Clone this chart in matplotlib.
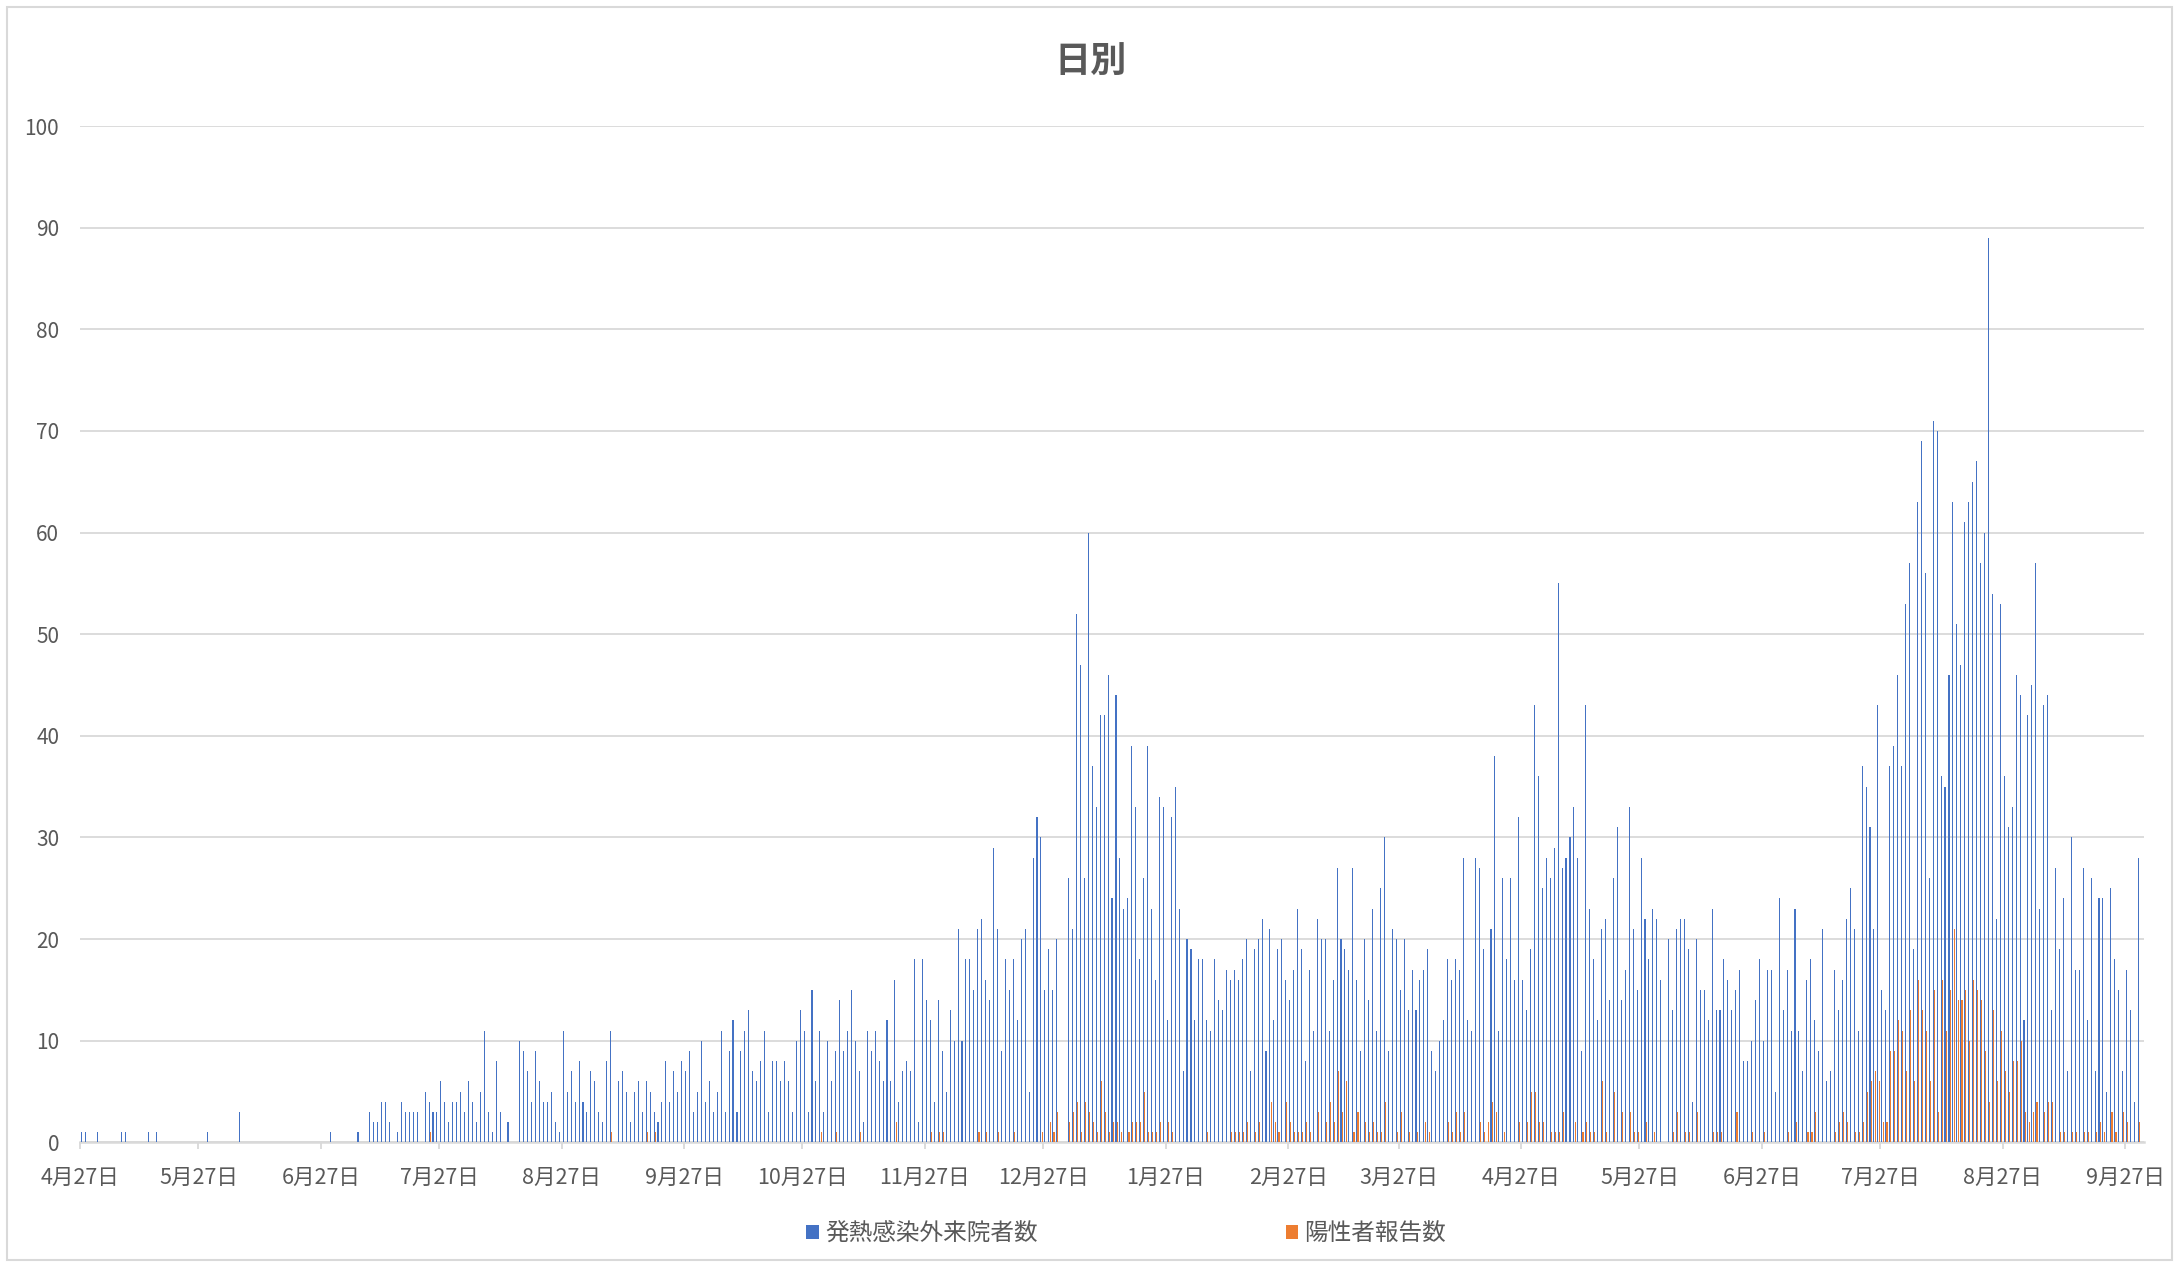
import numpy as np
import pandas as pd
import matplotlib
matplotlib.use('Agg')
import matplotlib.pyplot as plt
from matplotlib.patches import Rectangle

plt.rcParams['font.family'] = ['Noto Sans CJK JP', 'DejaVu Sans']

# daily counts, one value per day starting 2020-04-27
start_date = '2020-04-27'

# 発熱感染外来院者数 (rows of 10 days)
visits = [
    1, 1, 0, 0, 1, 0, 0, 0, 0, 0,
    1, 1, 0, 0, 0, 0, 0, 1, 0, 1,
    0, 0, 0, 0, 0, 0, 0, 0, 0, 0,
    0, 0, 1, 0, 0, 0, 0, 0, 0, 0,
    3, 0, 0, 0, 0, 0, 0, 0, 0, 0,
    0, 0, 0, 0, 0, 0, 0, 0, 0, 0,
    0, 0, 0, 1, 0, 0, 0, 0, 0, 0,
    1, 0, 0, 3, 2, 2, 4, 4, 2, 0,
    1, 4, 3, 3, 3, 3, 0, 5, 4, 3,
    3, 6, 4, 2, 4, 4, 5, 3, 6, 4,
    2, 5, 11, 3, 1, 8, 3, 0, 2, 0,
    0, 10, 9, 7, 4, 9, 6, 4, 4, 5,
    2, 1, 11, 5, 7, 4, 8, 4, 3, 7,
    6, 3, 2, 8, 11, 0, 6, 7, 5, 2,
    5, 6, 3, 6, 5, 3, 2, 4, 8, 4,
    7, 5, 8, 7, 9, 3, 5, 10, 4, 6,
    3, 5, 11, 3, 9, 12, 3, 9, 11, 13,
    7, 6, 8, 11, 3, 8, 8, 6, 8, 6,
    3, 10, 13, 11, 3, 15, 6, 11, 3, 10,
    6, 9, 14, 9, 11, 15, 10, 7, 2, 11,
    9, 11, 8, 6, 12, 6, 16, 4, 7, 8,
    7, 18, 2, 18, 14, 12, 4, 14, 9, 5,
    13, 10, 21, 10, 18, 18, 15, 21, 22, 16,
    14, 29, 21, 9, 18, 15, 18, 12, 20, 21,
    5, 28, 32, 30, 15, 19, 15, 20, 0, 0,
    26, 21, 52, 47, 26, 60, 37, 33, 42, 42,
    46, 24, 44, 28, 23, 24, 39, 33, 18, 26,
    39, 23, 16, 34, 33, 12, 32, 35, 23, 7,
    20, 19, 12, 18, 18, 12, 11, 18, 14, 13,
    17, 16, 17, 16, 18, 20, 7, 19, 20, 22,
    9, 21, 12, 19, 20, 16, 14, 17, 23, 19,
    8, 17, 11, 22, 20, 20, 11, 16, 27, 20,
    19, 17, 27, 16, 9, 20, 14, 23, 11, 25,
    30, 9, 21, 20, 15, 20, 13, 17, 13, 16,
    17, 19, 9, 7, 10, 12, 18, 16, 18, 17,
    28, 12, 11, 28, 27, 19, 0, 21, 38, 11,
    26, 18, 26, 16, 32, 16, 13, 19, 43, 36,
    25, 28, 26, 29, 55, 27, 28, 30, 33, 28,
    9, 43, 23, 18, 12, 21, 22, 14, 26, 31,
    14, 17, 33, 21, 15, 28, 22, 18, 23, 22,
    16, 0, 20, 13, 21, 22, 22, 19, 4, 20,
    15, 15, 12, 23, 13, 13, 18, 16, 13, 15,
    17, 8, 8, 10, 14, 18, 10, 17, 17, 5,
    24, 13, 17, 11, 23, 11, 7, 16, 18, 12,
    9, 21, 6, 7, 17, 13, 16, 22, 25, 21,
    11, 37, 35, 31, 21, 43, 15, 13, 37, 39,
    46, 37, 53, 57, 19, 63, 69, 56, 26, 71,
    70, 36, 35, 46, 63, 51, 47, 61, 63, 65,
    67, 57, 60, 89, 54, 22, 53, 36, 31, 33,
    46, 44, 12, 42, 45, 57, 23, 43, 44, 13,
    27, 19, 24, 7, 30, 17, 17, 27, 12, 26,
    7, 24, 24, 5, 25, 18, 15, 7, 17, 13,
    4, 28,
]

# 陽性者報告数 (rows of 10 days)
positives = [
    0, 0, 0, 0, 0, 0, 0, 0, 0, 0,
    0, 0, 0, 0, 0, 0, 0, 0, 0, 0,
    0, 0, 0, 0, 0, 0, 0, 0, 0, 0,
    0, 0, 0, 0, 0, 0, 0, 0, 0, 0,
    0, 0, 0, 0, 0, 0, 0, 0, 0, 0,
    0, 0, 0, 0, 0, 0, 0, 0, 0, 0,
    0, 0, 0, 0, 0, 0, 0, 0, 0, 0,
    0, 0, 0, 0, 0, 0, 0, 0, 0, 0,
    0, 0, 0, 0, 0, 0, 0, 0, 1, 0,
    0, 0, 0, 0, 0, 0, 0, 0, 0, 0,
    0, 0, 0, 0, 0, 0, 0, 0, 0, 0,
    0, 0, 0, 0, 0, 0, 0, 0, 0, 0,
    0, 0, 0, 0, 0, 0, 0, 0, 0, 0,
    0, 0, 0, 0, 1, 0, 0, 0, 0, 0,
    0, 0, 0, 1, 0, 1, 0, 0, 0, 0,
    0, 0, 0, 0, 0, 0, 0, 0, 0, 0,
    0, 0, 0, 0, 0, 0, 0, 0, 0, 0,
    0, 0, 0, 0, 0, 0, 0, 0, 0, 0,
    0, 0, 0, 0, 0, 0, 0, 1, 0, 0,
    0, 1, 0, 0, 0, 0, 0, 1, 0, 0,
    0, 0, 0, 0, 0, 0, 2, 0, 0, 0,
    0, 0, 0, 0, 0, 1, 0, 1, 1, 0,
    0, 0, 0, 0, 0, 0, 0, 1, 0, 1,
    0, 0, 1, 0, 0, 0, 1, 0, 0, 0,
    0, 0, 0, 1, 0, 2, 1, 3, 0, 0,
    2, 3, 4, 1, 4, 3, 2, 1, 6, 3,
    1, 2, 2, 1, 0, 1, 2, 2, 2, 5,
    1, 1, 1, 2, 0, 2, 1, 0, 0, 0,
    0, 0, 0, 0, 0, 1, 0, 0, 0, 0,
    0, 1, 1, 1, 1, 2, 0, 1, 2, 0,
    0, 4, 2, 1, 0, 4, 2, 1, 1, 1,
    2, 1, 0, 3, 0, 2, 4, 2, 7, 3,
    6, 0, 1, 3, 0, 2, 1, 2, 1, 1,
    4, 0, 0, 1, 3, 0, 1, 0, 1, 0,
    2, 1, 0, 0, 0, 0, 2, 1, 3, 1,
    3, 0, 0, 0, 2, 1, 2, 4, 3, 0,
    1, 0, 0, 0, 2, 0, 2, 5, 5, 2,
    2, 0, 1, 1, 1, 3, 0, 0, 2, 0,
    1, 2, 1, 1, 0, 6, 1, 0, 5, 0,
    3, 0, 3, 1, 1, 0, 2, 0, 1, 0,
    0, 0, 0, 1, 3, 0, 1, 1, 0, 3,
    0, 0, 0, 1, 1, 1, 0, 0, 0, 3,
    0, 0, 0, 1, 0, 0, 1, 0, 0, 0,
    0, 0, 1, 0, 2, 0, 0, 1, 1, 3,
    0, 0, 0, 0, 1, 2, 3, 2, 0, 1,
    1, 2, 5, 6, 7, 6, 2, 2, 9, 9,
    12, 11, 7, 13, 6, 16, 13, 11, 6, 15,
    3, 16, 11, 15, 21, 14, 14, 15, 10, 16,
    15, 14, 9, 4, 13, 6, 11, 7, 5, 8,
    8, 10, 3, 2, 3, 4, 0, 3, 4, 4,
    0, 1, 1, 0, 1, 1, 0, 1, 1, 0,
    1, 2, 1, 0, 3, 1, 0, 3, 2, 0,
    0, 2,
]

dates = pd.date_range(start_date, periods=len(visits), freq='D')
day_idx = np.asarray((dates - dates[0]).days, dtype=float)

# monthly ticks on the 27th
tick_dates = [dates[0] + pd.DateOffset(months=i) for i in range(18)]
tick_pos = [(t - dates[0]).days for t in tick_dates]
tick_labels = [f'{t.month}月{t.day}日' for t in tick_dates]

text_c = '#595959'
grid_c = '#D9D9D9'

fig = plt.figure(figsize=(21.79, 12.67), dpi=100)
ax = fig.add_axes([0.0367, 0.0984, 0.9472, 0.8021])

ax.bar(day_idx + 0.42, visits, width=0.27, color='#4472C4', linewidth=0,
       label='発熱感染外来院者数', zorder=3)
ax.bar(day_idx + 0.72, positives, width=0.27, color='#ED7D31', linewidth=0,
       label='陽性者報告数', zorder=3)

ax.set_ylim(0, 100)
ax.set_yticks(range(0, 101, 10))
ax.set_xlim(0, 522.8)
ax.set_xticks(tick_pos)
ax.set_xticklabels(tick_labels)

ax.grid(axis='y', color=grid_c, linewidth=1.3, zorder=0)
ax.set_axisbelow(True)
for side in ['left', 'right', 'top']:
    ax.spines[side].set_visible(False)
ax.spines['bottom'].set_color(grid_c)
ax.spines['bottom'].set_linewidth(1.8)

ax.tick_params(axis='x', length=5, width=1.3, color=grid_c, labelsize=15.5,
               labelcolor=text_c, pad=13)
ax.tick_params(axis='y', length=0, labelsize=15, labelcolor=text_c, pad=15)

fig.text(1091 / 2179, 1 - 62.5 / 1267, '日別', ha='center', va='center',
         fontsize=26, fontweight='bold', color=text_c)

fig.legend(loc='center', bbox_to_anchor=(0.5168, 0.0262), ncol=2, frameon=False,
           fontsize=17, handlelength=0.55, handleheight=0.55, handletextpad=0.25,
           columnspacing=10.5, labelcolor=text_c)

# outer chart border
fig.patches.append(Rectangle((7 / 2179, 1 - 1260 / 1267), 2165 / 2179, 1253 / 1267,
                             transform=fig.transFigure, fill=False,
                             edgecolor=grid_c, linewidth=1.5))

fig.savefig('out.png', dpi=100)
